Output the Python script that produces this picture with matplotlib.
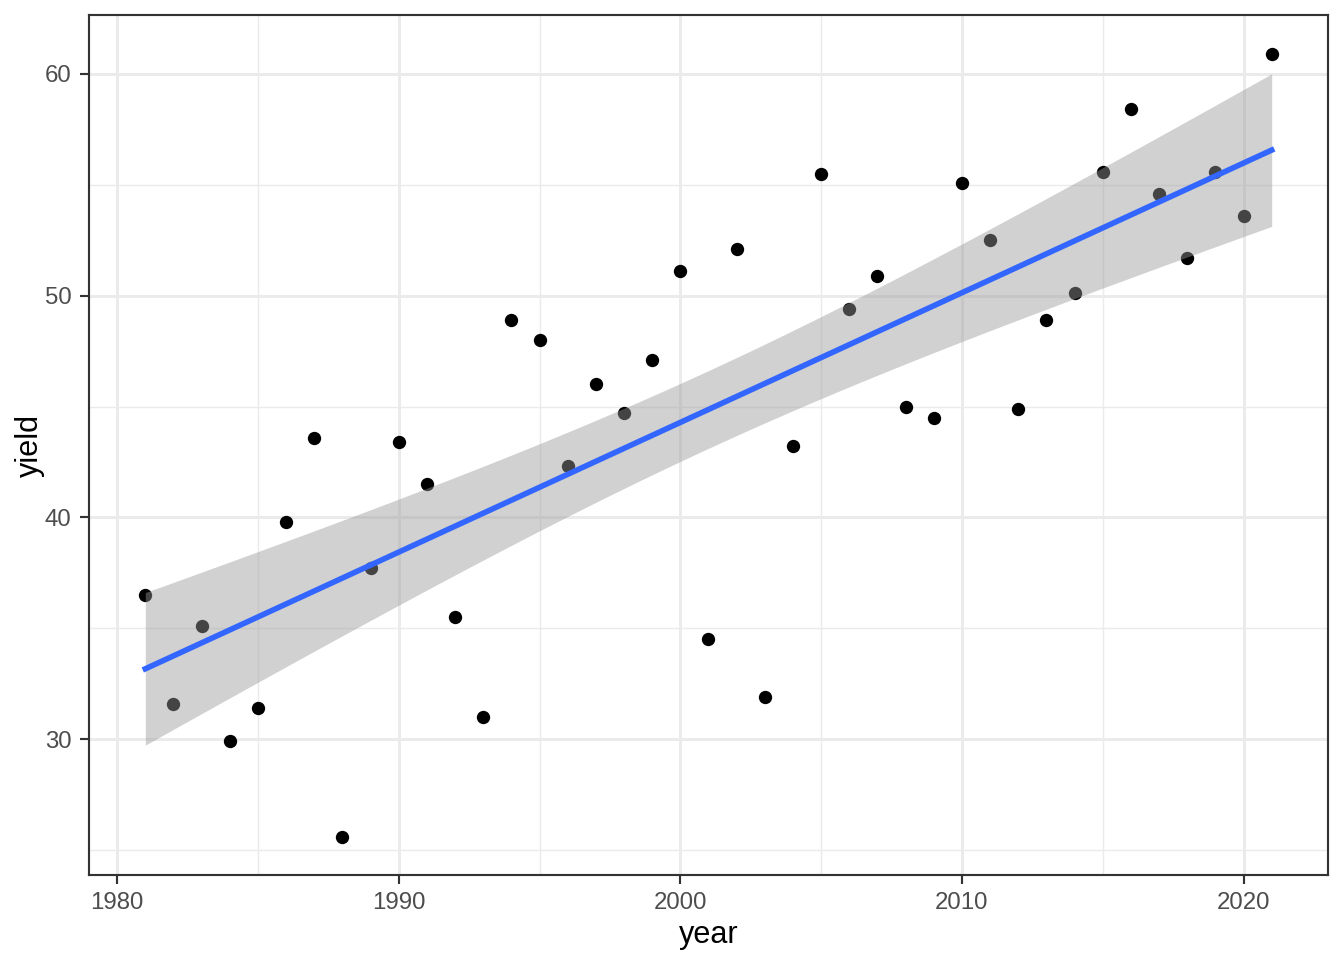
import numpy as np
import matplotlib
matplotlib.use("Agg")
import matplotlib.pyplot as plt
from matplotlib.ticker import MultipleLocator

plt.rcParams['font.family'] = ['Liberation Sans', 'DejaVu Sans']

# data
year = np.arange(1981, 2022)
yield_ = [36.5, 31.6, 35.1, 29.9, 31.4, 39.8, 43.6, 25.6, 37.7, 43.4,
          41.5, 35.5, 31.0, 48.9, 48.0, 42.3, 46.0, 44.7, 47.1, 51.1,
          34.5, 52.1, 31.9, 43.2, 55.5, 49.4, 50.9, 45.0, 44.5, 55.1,
          52.5, 44.9, 48.9, 50.1, 55.6, 58.4, 54.6, 51.7, 55.6, 53.6,
          60.9]

# linear fit + 95% confidence band (like geom_smooth(method="lm"))
x = year.astype(float)
y = np.array(yield_)
n = len(x)
slope, intercept = np.polyfit(x, y, 1)
resid = y - (intercept + slope * x)
s = np.sqrt(np.sum(resid ** 2) / (n - 2))
t_crit = 2.0227  # t(0.975, df=39)
xs = np.linspace(x.min(), x.max(), 80)
fit = intercept + slope * xs
se = s * np.sqrt(1 / n + (xs - x.mean()) ** 2 / np.sum((x - x.mean()) ** 2))

fig = plt.figure(figsize=(7, 5), dpi=192)
ax = fig.add_axes([0.0662, 0.0885, 0.9219, 0.8959])

ax.set_xlim(1979.0, 2023.0)
ax.set_ylim(23.87, 62.66)
ax.xaxis.set_major_locator(MultipleLocator(10))
ax.xaxis.set_minor_locator(MultipleLocator(5))
ax.yaxis.set_major_locator(MultipleLocator(10))
ax.yaxis.set_minor_locator(MultipleLocator(5))
ax.grid(which="major", color="#ebebeb", linewidth=1.1)
ax.grid(which="minor", color="#ebebeb", linewidth=0.55)
ax.set_axisbelow(True)

ax.scatter(x, y, s=25, color="black", zorder=3, linewidths=0)
ax.fill_between(xs, fit - t_crit * se, fit + t_crit * se, color="#999999",
                alpha=0.45, linewidth=0, zorder=4)
ax.plot(xs, fit, color="#3366FF", linewidth=2.1, zorder=5)

for sp in ax.spines.values():
    sp.set_color("#333333")
    sp.set_linewidth(0.8)
ax.tick_params(which="major", length=3.5, width=0.8, color="#333333",
               labelsize=9, labelcolor="#4d4d4d", pad=3)
ax.tick_params(which="minor", length=0)
ax.set_xlabel("year", fontsize=11.5, labelpad=2)
ax.set_ylabel("yield", fontsize=11.5, labelpad=0)

fig.savefig("out.png", dpi=192)
